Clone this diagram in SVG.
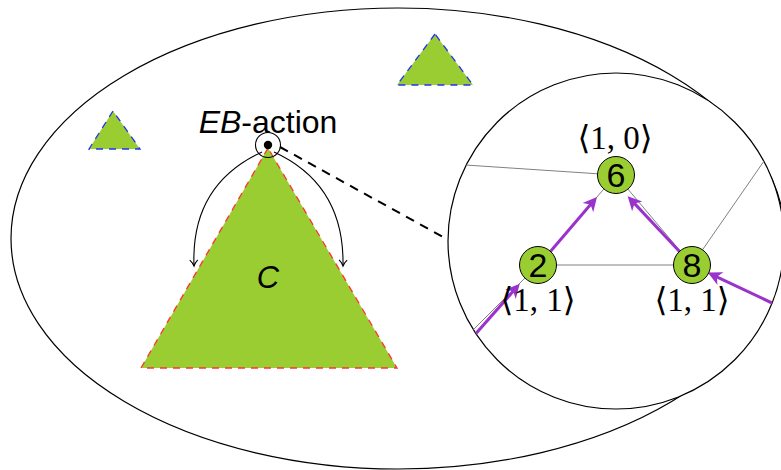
<svg xmlns="http://www.w3.org/2000/svg" width="781" height="470" viewBox="0 0 781 470">
<style>
.tri{fill:#9ACD32;stroke-width:1.3;stroke-dasharray:7 6}
.blue{stroke:#2233ee}
.red{stroke:#ff3333}
.edge{stroke:#808080;stroke-width:1;fill:none}
.parr{stroke:#9933CC;stroke-width:3;fill:none;marker-end:url(#pa)}
.node{fill:#9ACD32;stroke:#000;stroke-width:1}
.ntxt{font-family:"Liberation Sans","DejaVu Sans",sans-serif;font-size:34px;text-anchor:middle}
.lbl{font-family:"Liberation Serif","DejaVu Serif",serif;font-size:33px;text-anchor:middle}
</style>
<defs>
<marker id="ba" markerUnits="userSpaceOnUse" markerWidth="16" markerHeight="16" viewBox="-10 -8 16 16" refX="0" refY="0" orient="auto">
<path d="M -6,-4 Q -3,-1 0,0 Q -3,1 -6,4" fill="none" stroke="#000" stroke-width="1.1"/>
</marker>
<marker id="pa" markerUnits="userSpaceOnUse" markerWidth="24" markerHeight="24" viewBox="-14 -12 24 24" refX="0" refY="0" orient="auto">
<path d="M 4,0 L -10,-7 L -6,0 L -10,7 Z" fill="#9933CC"/>
</marker>
<clipPath id="zc"><circle cx="616" cy="241" r="168"/></clipPath>
</defs>

<ellipse id="world" cx="398" cy="238.5" rx="387" ry="230.5" fill="none" stroke="#000" stroke-width="1.2"/>

<g id="tri-small-left"><polygon class="tri blue" points="113,111 89,149 140,149"/></g>
<g id="tri-small-right"><polygon class="tri blue" points="435,34 397,85 473,85"/></g>
<g id="tri-C">
<polygon class="tri red" points="268,148 141,368 397,368"/>
<text x="268" y="288" font-family="Liberation Sans, DejaVu Sans, sans-serif" font-style="italic" font-size="31" text-anchor="middle">C</text>
</g>

<g id="connectors">
<path d="M 262,152 C 212,175 192,215 194,266" fill="none" stroke="#000" stroke-width="1.1" marker-end="url(#ba)"/>
<path d="M 274,152 C 324,175 344,215 343,266" fill="none" stroke="#000" stroke-width="1.1" marker-end="url(#ba)"/>
<line x1="280" y1="147" x2="443" y2="237" stroke="#000" stroke-width="2" stroke-dasharray="9 7"/>
</g>

<g id="eb-action">
<text x="268" y="133" font-family="Liberation Sans, DejaVu Sans, sans-serif" font-size="32" text-anchor="middle"><tspan font-style="italic">EB</tspan>-action</text>
<circle cx="268" cy="145" r="12.5" fill="none" stroke="#000" stroke-width="1.1"/>
<circle cx="268" cy="145" r="4.2" fill="#000"/>
</g>

<g id="zoom">
<circle cx="616" cy="241" r="168" fill="#fff" stroke="#000" stroke-width="1.2"/>
<g clip-path="url(#zc)">
<g id="graph-edges">
<line class="edge" x1="616" y1="175" x2="420" y2="162"/>
<line class="edge" x1="692" y1="265" x2="791" y2="122"/>
<line class="edge" x1="538" y1="265" x2="692" y2="265"/>
<line class="edge" x1="538" y1="265" x2="616" y2="175"/>
<line class="edge" x1="692" y1="265" x2="616" y2="175"/>
<line class="edge" x1="538" y1="265" x2="420" y2="383"/>
<line class="edge" x1="692" y1="265" x2="820" y2="326"/>
<line class="parr" x1="420" y1="397" x2="517.1" y2="286.8"/>
<line class="parr" x1="810" y1="321" x2="711.4" y2="274.3"/>
</g>
</g>
<line class="parr" x1="550" y1="252" x2="594.4" y2="200"/>
<line class="parr" x1="680" y1="252" x2="630.4" y2="199.1"/>
<g id="n6"><circle class="node" cx="616" cy="175" r="18.5"/><text class="ntxt" x="616" y="187">6</text><text class="lbl" x="615" y="149">⟨1, 0⟩</text></g>
<g id="n2"><circle class="node" cx="538" cy="265" r="18.5"/><text class="ntxt" x="538" y="277">2</text><text class="lbl" x="538" y="311">⟨1, 1⟩</text></g>
<g id="n8"><circle class="node" cx="692" cy="265" r="18.5"/><text class="ntxt" x="692" y="277">8</text><text class="lbl" x="692" y="311">⟨1, 1⟩</text></g>
</g>
</svg>
